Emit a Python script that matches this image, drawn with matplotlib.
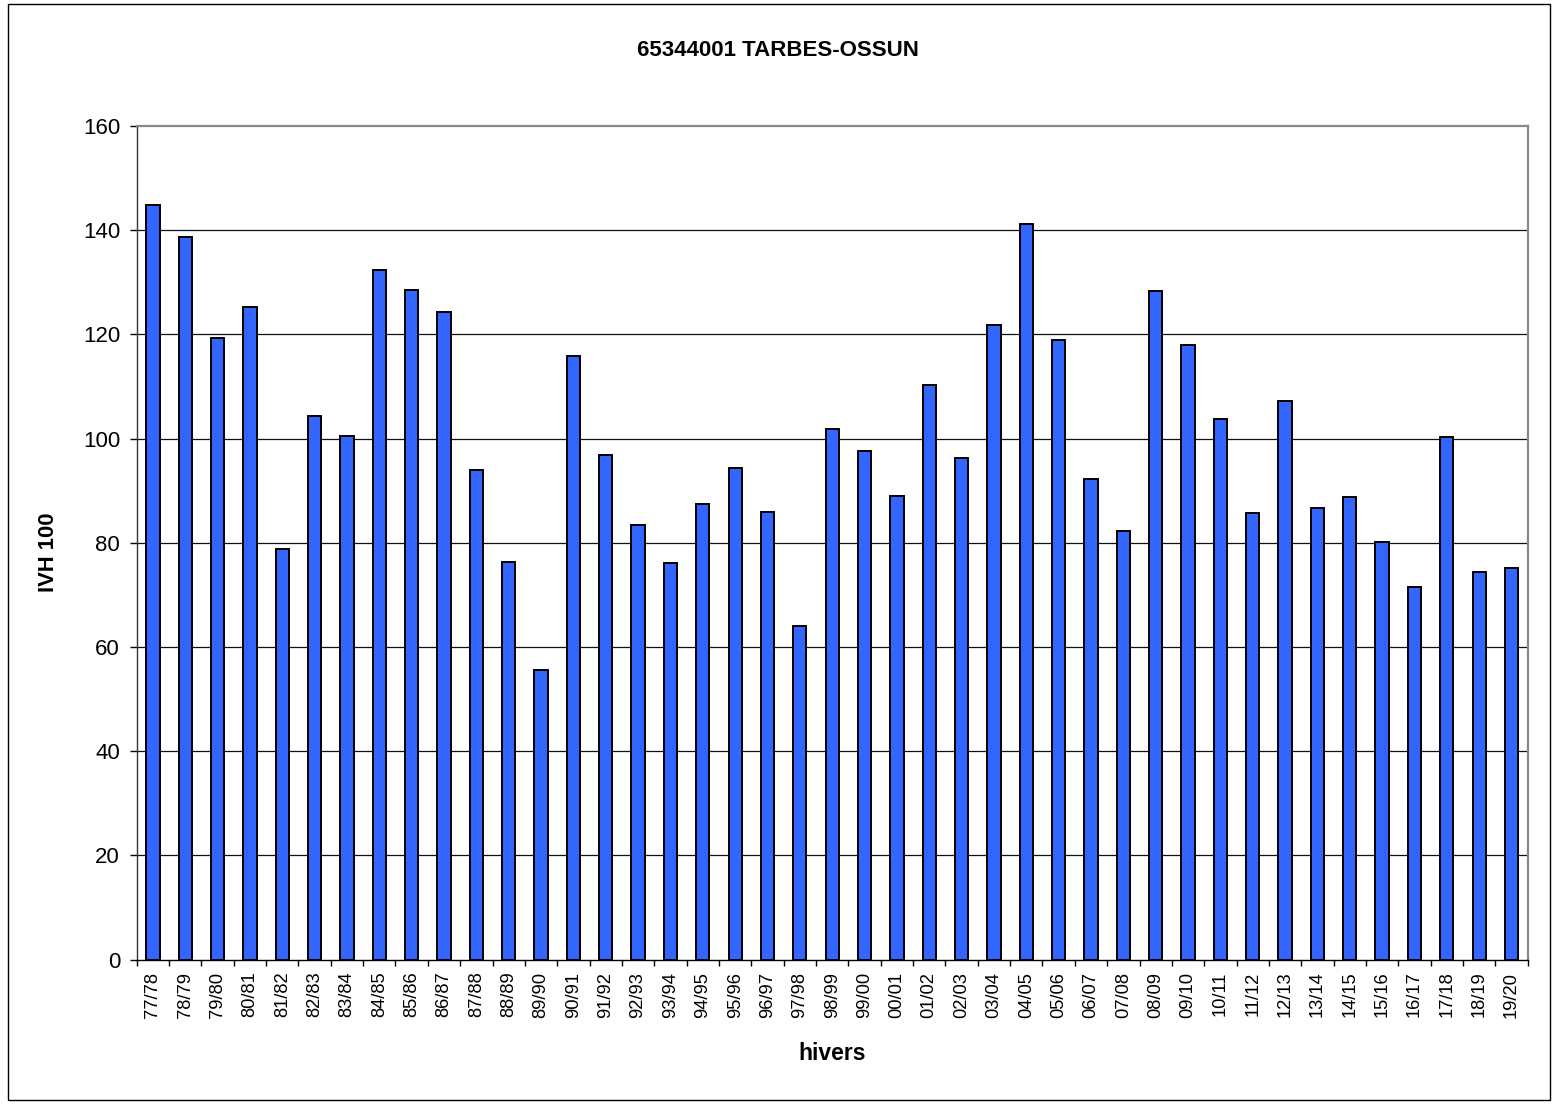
import matplotlib
matplotlib.use("Agg")
import matplotlib.pyplot as plt
from matplotlib.patches import Rectangle
import numpy as np

plt.rcParams['font.family'] = ['Liberation Sans', 'DejaVu Sans']

winters = ["77/78", "78/79", "79/80", "80/81", "81/82", "82/83", "83/84", "84/85",
           "85/86", "86/87", "87/88", "88/89", "89/90", "90/91", "91/92", "92/93",
           "93/94", "94/95", "95/96", "96/97", "97/98", "98/99", "99/00", "00/01",
           "01/02", "02/03", "03/04", "04/05", "05/06", "06/07", "07/08", "08/09",
           "09/10", "10/11", "11/12", "12/13", "13/14", "14/15", "15/16", "16/17",
           "17/18", "18/19", "19/20"]
ivh = [144.9, 138.7, 119.4, 125.2, 78.8, 104.3, 100.5, 132.3,
       128.6, 124.3, 94.0, 76.4, 55.6, 115.8, 96.9, 83.4,
       76.2, 87.5, 94.4, 86.0, 64.0, 101.8, 97.6, 89.0,
       110.3, 96.2, 121.8, 141.1, 119.0, 92.2, 82.3, 128.4,
       117.9, 103.8, 85.7, 107.2, 86.7, 88.8, 80.1, 71.6,
       100.3, 74.4, 75.2]
yticks = [0, 20, 40, 60, 80, 100, 120, 140, 160]

W, H = 1555, 1104
fig = plt.figure(figsize=(W / 100, H / 100), dpi=100)
fig.patch.set_facecolor('white')
fig.patches.append(Rectangle((8 / W, 1 - 1100 / H), (1550 - 8) / W, (1100 - 4) / H,
                             transform=fig.transFigure, fill=False,
                             edgecolor='black', linewidth=1.0))

ax = fig.add_axes([136.7 / W, 1 - 959.7 / H, (1527.7 - 136.7) / W, (959.7 - 126) / H])
x = np.arange(len(winters))
ax.bar(x, ivh, width=0.41, color='#3366FF', edgecolor='black', linewidth=1.4, zorder=3)

ax.set_xlim(-0.5, len(winters) - 0.5)
ax.set_ylim(0, 160)
ax.set_yticks(yticks)
ax.set_yticklabels([str(v) for v in yticks], fontsize=16)
ax.set_xticks(x)
ax.set_xticklabels(winters, rotation=90, fontsize=13.2)
ax.set_xticks(np.arange(-0.5, len(winters), 1.0), minor=True)
ax.tick_params(axis='x', which='major', length=0, pad=8.6)
ax.tick_params(axis='x', which='minor', length=4, width=1, direction='out', color='black')
ax.tick_params(axis='y', which='major', length=5, width=1, direction='out', color='black', pad=7)

for v in yticks[1:-1]:
    ax.axhline(v, color='#111111', linewidth=0.9, zorder=1)

ax.spines['left'].set_color('#333333')
ax.spines['bottom'].set_color('black')
ax.spines['top'].set_color('#888888')
ax.spines['right'].set_color('#888888')
for s in ['top', 'right']:
    ax.spines[s].set_linewidth(1.6)
for s in ['left', 'bottom']:
    ax.spines[s].set_linewidth(1.0)

fig.text(778 / W, 1 - 50 / H, "65344001 TARBES-OSSUN", ha='center', va='center',
         fontsize=16, fontweight='bold')
fig.text(49 / W, 1 - 552 / H, "IVH 100", ha='center', va='center', rotation=90,
         fontsize=15.8, fontweight='bold')
fig.text(832 / W, 1 - 1054 / H, "hivers", ha='center', va='center',
         fontsize=16.5, fontweight='bold')

fig.savefig("out.png", dpi=100, facecolor='white')
